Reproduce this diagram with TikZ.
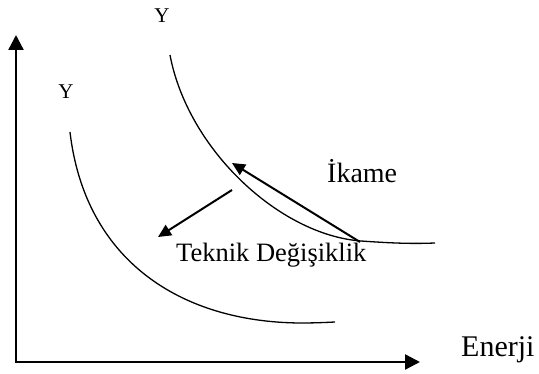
\documentclass[tikz,border=0pt]{standalone}
\usepackage{fontspec}
\setmainfont{Liberation Serif}
\usetikzlibrary{arrows.meta}

\begin{document}
\begin{tikzpicture}[x=1pt, y=-1pt, >={Triangle[length=15pt, width=15pt]},
  axis/.style={line width=2.4pt},
  curve/.style={line width=1.3pt},
  move/.style={line width=2pt, -{Triangle[length=13pt, width=12pt]}},
  lbl/.style={inner sep=0pt, anchor=base west, font=\fontsize{28pt}{32pt}\selectfont},
  ylbl/.style={inner sep=0pt, font=\fontsize{21pt}{24pt}\selectfont}]
\useasboundingbox (0,0) rectangle (539,374);
\coordinate (ytip) at (16,35);
\coordinate (xtip) at (420,362);
\draw[axis, <->] (ytip) |- (xtip);
\node[lbl, font=\fontsize{30pt}{34pt}\selectfont] (enerji) at (461,357) {Enerji};
% isoquants
\draw[curve] (170,55) .. controls (188,150) and (280,235) .. (361,241)
  .. controls (390,243) and (410,244) .. (435,243);
\draw[curve] (70,132) .. controls (85,260) and (180,322) .. (300,323)
  .. controls (315,323) and (325,322.5) .. (335,322);
\node[ylbl] (yhigh) at (162,16) {Y};
\node[ylbl] (ylow) at (66,92) {Y};
% shifts
\coordinate (ikfrom) at (360,242);
\coordinate (ikto) at (232,163);
\draw[move] (ikfrom) -- (ikto);
\coordinate (tkfrom) at (232,190);
\coordinate (tkto) at (158,237);
\draw[move] (tkfrom) -- (tkto);
\node[lbl] (ikame) at (327,183) {İkame};
\node[lbl, font=\fontsize{26.5pt}{30pt}\selectfont] (teknik) at (176,262) {Teknik Değişiklik};
\end{tikzpicture}
\end{document}
